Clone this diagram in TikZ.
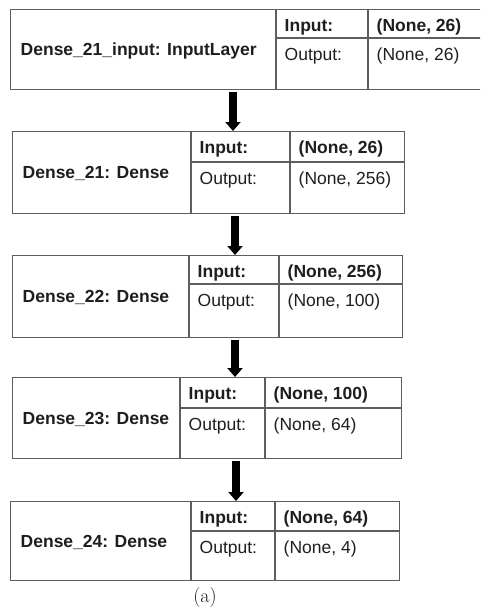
\documentclass[tikz,border=0pt]{standalone}
\usepackage{fontspec}
\newfontfamily\arialfont{Liberation Sans}
\usetikzlibrary{arrows.meta}
\definecolor{linegray}{HTML}{5E5E5E}
\definecolor{textdark}{HTML}{1E1E1E}
\tikzset{
  boxstyle/.style={draw=linegray, line width=1.3pt, inner sep=0pt, rectangle},
  gridline/.style={draw=linegray, line width=1.3pt},
  txt/.style={inner sep=0pt, anchor=base west, text=textdark, font=\arialfont\fontsize{17.5}{20}\selectfont},
  boldtxt/.style={txt, font=\arialfont\bfseries\fontsize{17.5}{20}\selectfont},
  flowarrow/.style={draw=black, line width=7.5pt, shorten <=2pt, -{Triangle[width=15pt,length=9pt]}}
}
% #1 name, #2 left, #3 top, #4 right, #5 bottom, #6 first divider, #7 second divider, #8 row line, #9 label
\newcommand\layerbox[9]{%
  \node[boxstyle, minimum width=(#4-#2)*1pt, minimum height=(#5-#3)*1pt, anchor=north west] (#1) at (#2,#3) {};
  \draw[gridline] (#6,#3) -- (#6,#5) (#7,#3) -- (#7,#5) (#6,#8) -- (#4,#8);
  \node[boldtxt] (#1-name) at (#2+10.5, {(#3+#5)/2+6.5}) {#9};
  \coordinate (#1-in) at (#6+8.5, #3+22);
  \coordinate (#1-out) at (#6+8.5, #8+22.5);
  \coordinate (#1-inv) at (#7+8.5, #3+22);
  \coordinate (#1-outv) at (#7+8.5, #8+22.5);
}
\newcommand\layervals[3]{%
  \node[boldtxt] (#1-intxt) at (#1-in) {Input:};
  \node[txt] (#1-outtxt) at (#1-out) {Output:};
  \node[boldtxt] (#1-invtxt) at (#1-inv) {#2};
  \node[txt] (#1-outvtxt) at (#1-outv) {#3};
}
\begin{document}
\begin{tikzpicture}[x=1pt, y=-1pt]
\useasboundingbox (0,0) rectangle (480,613);
\clip (0,0) rectangle (480,613);

\layerbox{b1}{10}{9}{486}{89}{276}{368}{38}{Dense\_21\_input: InputLayer}
\layervals{b1}{(None, 26)}{(None, 26)}

\layerbox{b2}{12}{131}{404}{213}{191}{290}{162}{Dense\_21: Dense}
\layervals{b2}{(None, 26)}{(None, 256)}

\layerbox{b3}{12}{255}{402}{337}{189}{279}{284}{Dense\_22: Dense}
\layervals{b3}{(None, 256)}{(None, 100)}

\layerbox{b4}{12}{377}{401}{458}{180}{265}{408}{Dense\_23: Dense}
\layervals{b4}{(None, 100)}{(None, 64)}

\layerbox{b5}{10}{501}{399}{580}{191}{275}{531}{Dense\_24: Dense}
\layervals{b5}{(None, 64)}{(None, 4)}

\coordinate (x1) at (233,0);
\coordinate (x2) at (235,0);
\coordinate (x3) at (235,0);
\coordinate (x4) at (236,0);
\draw[flowarrow] (b1.south -| x1) -- (b2.north -| x1);
\draw[flowarrow] (b2.south -| x2) -- (b3.north -| x2);
\draw[flowarrow] (b3.south -| x3) -- (b4.north -| x3);
\draw[flowarrow] (b4.south -| x4) -- (b5.north -| x4);

\node[font=\fontsize{20}{22}\selectfont, text=textdark, inner sep=0pt] (cap) at (205,598) {(a)};
\end{tikzpicture}
\end{document}
